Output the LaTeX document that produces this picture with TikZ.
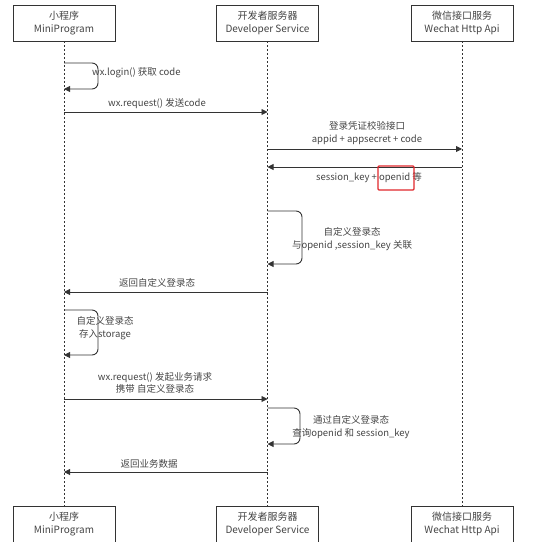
\documentclass[tikz,border=0pt]{standalone}
\usepackage{fontspec}
\setmainfont{Noto Sans CJK SC}
\usetikzlibrary{arrows.meta}
\definecolor{linec}{HTML}{333333}
\definecolor{textc}{HTML}{444444}
\definecolor{hlred}{HTML}{E0262B}
\begin{document}
\begin{tikzpicture}[x=1pt,y=-1pt,
  box/.style={draw=linec, line width=0.9pt, minimum width=102pt, minimum height=36pt, align=center, font=\fontsize{10}{13}\selectfont, text=textc, inner sep=0pt},
  life/.style={draw=linec, line width=0.7pt, dash pattern=on 2pt off 2pt},
  msg/.style={draw=linec, line width=0.9pt, -{Triangle[length=6pt,width=6pt]}},
  loopmsg/.style={msg, rounded corners=6pt},
  lbl/.style={font=\fontsize{9.5}{12.5}\selectfont, text=textc, align=center, inner sep=0pt}]
\useasboundingbox (0,0) rectangle (554,541);
\clip (0,0) rectangle (554,541);
% lifeline boxes
\node[box] (mp)  at (64,23)    {小程序\\MiniProgram};
\node[box] (dev) at (267.5,23) {开发者服务器\\Developer Service};
\node[box] (wx)  at (462,23)   {微信接口服务\\Wechat Http Api};
\node[box] (mpb)  at (64,524)    {小程序\\MiniProgram};
\node[box] (devb) at (267.5,524) {开发者服务器\\Developer Service};
\node[box] (wxb)  at (462,524)   {微信接口服务\\Wechat Http Api};
% lifelines
\draw[life] (mp) -- (mpb);
\draw[life] (dev) -- (devb);
\draw[life] (wx) -- (wxb);
% 1 self loop wx.login
\draw[loopmsg] (mp |- 0,63) -- (98,63) -- (98,89) -- (mp |- 0,89);
\node[lbl, anchor=west] (t1) at (92,73) {wx.login() 获取 code};
% 2 wx.request
\draw[msg] (mp |- 0,112) -- (dev |- 0,112);
\node[lbl] (t2) at (157,104) {wx.request() 发送code};
% 3 to wechat
\draw[msg] (dev |- 0,149) -- (wx |- 0,149);
\node[lbl] (t3) at (367,133) {登录凭证校验接口\\appid + appsecret + code};
% 4 return
\draw[msg] (wx |- 0,167) -- (dev |- 0,167);
\node[lbl] (t4) at (369,177.5) {session\_key + openid 等};
\node[draw=hlred, line width=1.3pt, rounded corners=1pt, minimum width=36pt, minimum height=24pt, inner sep=0pt] (hl) at (396,178) {};
% 5 self loop dev
\draw[loopmsg] (dev |- 0,211) -- (302,211) -- (302,264) -- (dev |- 0,264);
\node[lbl] (t5) at (352,239) {自定义登录态\\与openid ,session\_key 关联};
% 6 return
\draw[msg] (dev |- 0,292) -- (mp |- 0,292);
\node[lbl] (t6) at (157,283) {返回自定义登录态};
% 7 self loop mp
\draw[loopmsg] (mp |- 0,310) -- (98,310) -- (98,355) -- (mp |- 0,355);
\node[lbl] (t7) at (105,328) {自定义登录态\\存入storage};
% 8 request
\draw[msg] (mp |- 0,399) -- (dev |- 0,399);
\node[lbl] (t8) at (155,383) {wx.request() 发起业务请求\\携带 自定义登录态};
% 9 self loop dev
\draw[loopmsg] (dev |- 0,408) -- (300,408) -- (300,444) -- (dev |- 0,444);
\node[lbl] (t9) at (351,427) {通过自定义登录态\\查询openid 和 session\_key};
% 10 return data
\draw[msg] (dev |- 0,472) -- (mp |- 0,472);
\node[lbl] (t10) at (149,464) {返回业务数据};
\end{tikzpicture}
\end{document}
